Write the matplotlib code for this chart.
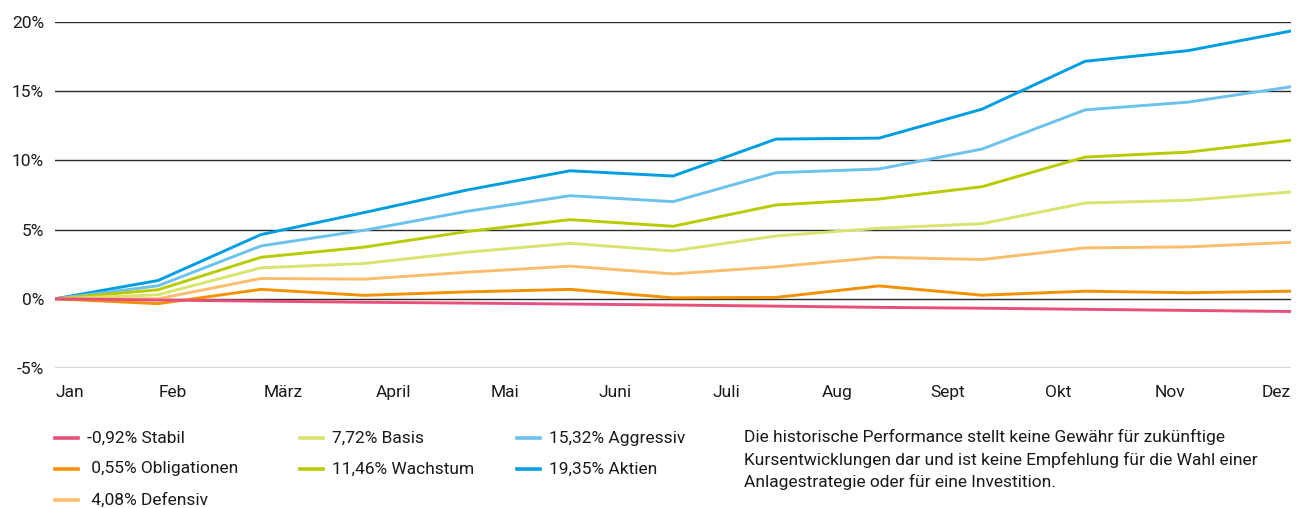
import matplotlib.pyplot as plt
from matplotlib.lines import Line2D
import numpy as np

# Daten (Wertentwicklung in %)
monate = ["Jan", "Feb", "März", "April", "Mai", "Juni", "Juli", "Aug", "Sept", "Okt", "Nov", "Dez"]
punkte = list(range(13))

aktien = [0, 1.32, 4.64, 6.23, 7.86, 9.25, 8.87, 11.54, 11.61, 13.70, 17.16, 17.93, 19.35]
aggressiv = [0, 0.94, 3.82, 4.95, 6.32, 7.45, 7.02, 9.11, 9.38, 10.82, 13.65, 14.21, 15.32]
wachstum = [0, 0.65, 3.00, 3.73, 4.86, 5.72, 5.24, 6.78, 7.21, 8.10, 10.24, 10.60, 11.46]
basis = [0, 0.29, 2.24, 2.55, 3.37, 4.01, 3.46, 4.54, 5.10, 5.43, 6.92, 7.12, 7.72]
defensiv = [0, 0.0, 1.47, 1.42, 1.92, 2.36, 1.80, 2.31, 3.00, 2.84, 3.68, 3.75, 4.08]
obligationen = [0, -0.35, 0.68, 0.25, 0.50, 0.68, 0.07, 0.10, 0.93, 0.26, 0.55, 0.44, 0.55]
stabil = [0, -0.09, -0.17, -0.25, -0.31, -0.38, -0.45, -0.53, -0.62, -0.68, -0.76, -0.84, -0.92]

serien = [
    ("19,35% Aktien", aktien, "#009ee0"),
    ("15,32% Aggressiv", aggressiv, "#6cc2ec"),
    ("11,46% Wachstum", wachstum, "#b9cb00"),
    ("7,72% Basis", basis, "#d8e46e"),
    ("4,08% Defensiv", defensiv, "#fbbd6c"),
    ("0,55% Obligationen", obligationen, "#f39200"),
    ("-0,92% Stabil", stabil, "#e8507c"),
]

plt.rcParams["font.family"] = ["Liberation Sans Narrow", "Roboto", "DejaVu Sans"]

W, H = 1296, 508
fig = plt.figure(figsize=(W / 100, H / 100), dpi=100)


def fx(x):
    return x / W


def fy(y):
    return 1 - y / H


ax = fig.add_axes([fx(55), fy(368), fx(1291) - fx(55), fy(22) - fy(368)])

for yv in [-5, 0, 5, 10, 15, 20]:
    ax.axhline(yv, color="#2a2a2a", linewidth=1.0, zorder=1)

for label, werte, farbe in serien:
    ax.plot(punkte, werte, color=farbe, linewidth=2.1, zorder=3,
            solid_joinstyle="miter")

ax.set_xlim(0, 12)
ax.set_ylim(-5, 20)
for s in ax.spines.values():
    s.set_visible(False)

ax.set_yticks([-5, 0, 5, 10, 15, 20])
ax.set_yticklabels(["-5%", "0%", "5%", "10%", "15%", "20%"], fontsize=12.5, color="#1a1a1a")
ax.tick_params(axis="y", length=0, pad=8)
ax.tick_params(axis="x", length=0, pad=12)

label_pos = [0] + list(np.linspace(1.14, 10.82, 10)) + [12]
ax.set_xticks(label_pos)
ax.set_xticklabels(monate, fontsize=12.5, color="#1a1a1a")
xt = ax.get_xticklabels()
xt[0].set_ha("left")
xt[-1].set_ha("right")

# Legende
legende = [
    (55, 438, "-0,92% Stabil", "#e8507c"),
    (55, 469, " 0,55% Obligationen", "#f39200"),
    (55, 500, " 4,08% Defensiv", "#fbbd6c"),
    (300, 438, "7,72% Basis", "#d8e46e"),
    (300, 469, "11,46% Wachstum", "#b9cb00"),
    (517, 438, "15,32% Aggressiv", "#6cc2ec"),
    (517, 469, "19,35% Aktien", "#009ee0"),
]
for x0, y0, txt, farbe in legende:
    fig.add_artist(Line2D([fx(x0), fx(x0 + 23)], [fy(y0), fy(y0)],
                          color=farbe, linewidth=2.6, transform=fig.transFigure))
    fig.text(fx(x0 + 32), fy(y0), txt, fontsize=12.5, va="center", ha="left",
             color="#1a1a1a")

hinweis = ("Die historische Performance stellt keine Gewähr für zukünftige\n"
           "Kursentwicklungen dar und ist keine Empfehlung für die Wahl einer\n"
           "Anlagestrategie oder für eine Investition.")
fig.text(fx(744), fy(429), hinweis, fontsize=12.5, va="top", ha="left",
         color="#1a1a1a", linespacing=1.5)

fig.savefig("out.png", dpi=100)
